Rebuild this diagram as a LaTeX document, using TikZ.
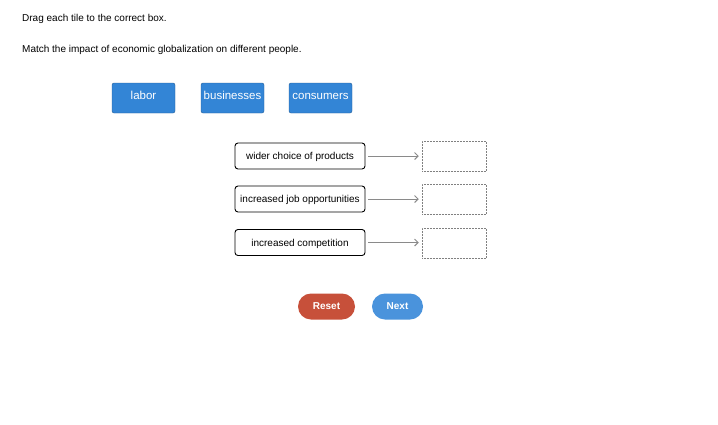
\documentclass[tikz,border=0pt]{standalone}
\usepackage{fontspec}
\setmainfont{Liberation Sans}
\usetikzlibrary{arrows.meta}
\definecolor{tileblue}{HTML}{3385D6}
\definecolor{resetred}{HTML}{C7503A}
\definecolor{nextblue}{HTML}{4A93DC}
\definecolor{arrowgray}{HTML}{8A8A8A}
\tikzset{
  hdr/.style={anchor=base west, inner sep=0pt, font=\fontsize{10}{12}\selectfont},
  tile/.style={draw=tileblue!70!black, fill=tileblue, rounded corners=2pt, minimum width=63pt, minimum height=30pt, inner sep=0pt},
  tiletext/.style={text=white, inner sep=0pt, anchor=base, font=\fontsize{11.5}{13}\selectfont},
  item/.style={draw=black, line width=0.9pt, rounded corners=3pt, minimum width=130pt, minimum height=26pt, inner sep=0pt, font=\fontsize{10}{12}\selectfont},
  itemtext/.style={inner sep=0pt, anchor=base, font=\fontsize{10}{12}\selectfont},
  target/.style={draw=black!50, densely dotted, line width=0.5pt, minimum width=64pt, minimum height=30pt, inner sep=0pt},
  conn/.style={draw=arrowgray, line width=1pt, -{Straight Barb[length=3.5pt,width=7pt]}},
  btn/.style={rounded corners=13pt, minimum height=26pt, inner sep=0pt, text=white},
  btntext/.style={inner sep=0pt, anchor=base, text=white, font=\bfseries\fontsize{10}{12}\selectfont}
}
\begin{document}
\begin{tikzpicture}[x=1pt,y=-1pt]
\useasboundingbox (0,0) rectangle (718,424);
\node[hdr] (h1) at (22,21) {Drag each tile to the correct box.};
\node[hdr] (h2) at (22,52) {Match the impact of economic globalization on different people.};

\node[tile] (t1) at (143.5,98) {};
\node[tiletext] (t1l) at (143.5,99) {labor};
\node[tile] (t2) at (232.5,98) {};
\node[tiletext] (t2l) at (232.5,99) {businesses};
\node[tile] (t3) at (320.5,98) {};
\node[tiletext] (t3l) at (320.5,99) {consumers};

\node[item] (i1) at (300,156) {};
\node[itemtext] (i1l) at (300,159.5) {wider choice of products};
\node[item] (i2) at (300,199) {};
\node[itemtext] (i2l) at (300,202.5) {increased job opportunities};
\node[item] (i3) at (300,242.5) {};
\node[itemtext] (i3l) at (300,246) {increased competition};

\node[target] (b1) at (454,156) {};
\node[target] (b2) at (454,199) {};
\node[target] (b3) at (454,243) {};

\draw[conn] ([xshift=3pt]i1.east) -- ([xshift=-3pt]b1.west |- i1.east);
\draw[conn] ([xshift=3pt]i2.east) -- ([xshift=-3pt]b2.west |- i2.east);
\draw[conn] ([xshift=3pt]i3.east) -- ([xshift=-3pt]b3.west |- i3.east);

\node[btn, fill=resetred, minimum width=57pt] (reset) at (326.5,306.5) {};
\node[btntext] (resetl) at (326.5,309) {Reset};
\node[btn, fill=nextblue, minimum width=51pt] (next) at (397.5,306.5) {};
\node[btntext] (nextl) at (397.5,309) {Next};
\end{tikzpicture}
\end{document}
